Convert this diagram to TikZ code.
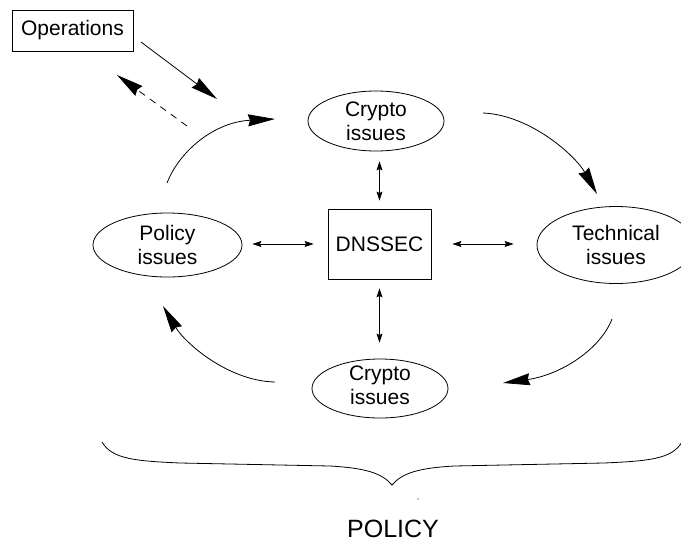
\documentclass[tikz,border=0pt]{standalone}
\usepackage{fontspec}
\setmainfont{Liberation Sans}
\usetikzlibrary{shapes.geometric,arrows.meta}
\begin{document}
\begin{tikzpicture}[x=1pt,y=-1pt,
  line width=0.8pt,
  lbl/.style={font=\fontsize{21}{24}\selectfont, align=center},
  issue/.style={draw, ellipse, inner sep=0pt},
  boxnode/.style={draw, rectangle, inner sep=0pt},
  bigarrow/.style={-{Stealth[length=27pt,width=12pt,inset=2pt]}},
  smalltip/.tip={Stealth[length=9pt,width=6pt,inset=1.5pt]},
  dbl/.style={smalltip-smalltip},
]
\useasboundingbox (0,0) rectangle (681,542);

% boxes
\node[boxnode, minimum width=121pt, minimum height=41pt, lbl] (ops) at (72.5,30.5) {Operations};
\node[boxnode, minimum width=103pt, minimum height=70pt, lbl] (dnssec) at (379.5,244) {DNSSEC};

% issue ellipses
\node[issue, minimum width=136pt, minimum height=60pt,
      label={[lbl]center:Crypto\\issues}] (cryptoT) at (376,121) {};
\node[issue, minimum width=158pt, minimum height=77pt,
      label={[lbl]center:Technical\\issues}] (tech) at (616,245) {};
\node[issue, minimum width=149pt, minimum height=64pt,
      label={[lbl]center:Policy\\issues}] (policy) at (167.5,245) {};
\node[issue, minimum width=136pt, minimum height=59pt,
      label={[lbl,yshift=3pt]center:Crypto\\issues}] (cryptoB) at (380,388.5) {};

% links to DNSSEC
\draw[dbl, shorten <=10pt, shorten >=8pt] (cryptoT.south -| dnssec.north) -- (dnssec.north);
\draw[dbl, shorten <=9pt, shorten >=16pt] (dnssec.south) -- (cryptoB.north -| dnssec.south);
\draw[dbl, shorten <=10pt, shorten >=14pt] (policy.east |- dnssec.west) -- (dnssec.west);
\draw[dbl, shorten <=21pt, shorten >=23pt] (dnssec.east) -- (tech.west |- dnssec.east);

% cycle arrows
\coordinate (tlA) at (167,183);  \coordinate (tlB) at (275,119);
\coordinate (trA) at (483,113);  \coordinate (trB) at (597,194);
\coordinate (brA) at (612,319);  \coordinate (brB) at (503,383);
\coordinate (blA) at (275,382);  \coordinate (blB) at (163,306);
\draw[bigarrow] (tlA) .. controls (180,150) and (215,122) .. (tlB);
\draw[bigarrow] (trA) .. controls (530,115) and (575,155) .. (trB);
\draw[bigarrow] (brA) .. controls (600,350) and (560,375) .. (brB);
\draw[bigarrow] (blA) .. controls (228,381) and (185,343) .. (blB);

% operations arrows
\coordinate (opsOut) at (141,42);  \coordinate (opsIn) at (217,99);
\coordinate (fbA) at (187,126);    \coordinate (fbB) at (117,75);
\draw[bigarrow] (opsOut) -- (opsIn);
\draw[bigarrow, dash pattern=on 7pt off 6pt] (fbA) -- (fbB);

% brace
\draw (102,442) .. controls (112,459) and (135,461) .. (180,463)
      -- (330,466) .. controls (365,468) and (382,473) .. (392,485)
      .. controls (402,473) and (419,468) .. (454,466)
      -- (604,463) .. controls (649,461) and (672,459) .. (682,442);
\fill (418,499) circle (0.6pt);
\node[font=\fontsize{25}{28}\selectfont] (policytitle) at (393,529) {POLICY};
\end{tikzpicture}
\end{document}
